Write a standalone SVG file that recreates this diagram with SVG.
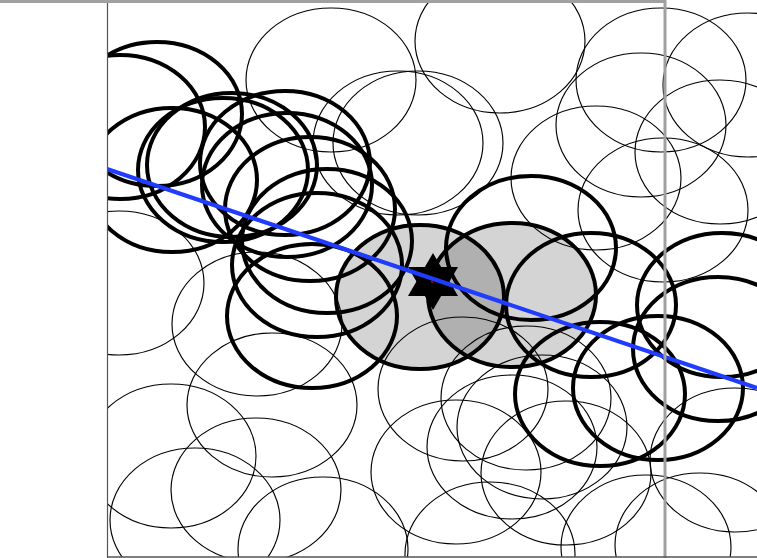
<svg xmlns="http://www.w3.org/2000/svg" width="757" height="558" viewBox="0 0 757 558">
<style>
.t{fill:none;stroke:#000;stroke-width:1.15}
.k{fill:none;stroke:#000;stroke-width:4}
.gf{fill:#000;fill-opacity:0.17;stroke:none}
</style>
<defs>
<clipPath id="area"><rect x="107" y="0" width="650" height="557"/></clipPath>
</defs>
<rect x="0" y="0" width="757" height="558" fill="#fff"/>
<g clip-path="url(#area)">
<g id="fills">
<ellipse class="gf" cx="420" cy="297" rx="84" ry="72"/>
<ellipse class="gf" cx="512" cy="295" rx="84" ry="72"/>
</g>
<g id="thin">
<ellipse class="t" cx="331" cy="80" rx="85" ry="72"/>
<ellipse class="t" cx="500" cy="41" rx="85" ry="72"/>
<ellipse class="t" cx="398" cy="143" rx="85" ry="72"/>
<ellipse class="t" cx="418" cy="143" rx="85" ry="72"/>
<ellipse class="t" cx="661" cy="80" rx="85" ry="72"/>
<ellipse class="t" cx="641" cy="125" rx="85" ry="72"/>
<ellipse class="t" cx="748" cy="85" rx="85" ry="72"/>
<ellipse class="t" cx="720" cy="152" rx="85" ry="72"/>
<ellipse class="t" cx="596" cy="178" rx="85" ry="72"/>
<ellipse class="t" cx="663" cy="210" rx="85" ry="72"/>
<ellipse class="t" cx="119" cy="283" rx="85" ry="72"/>
<ellipse class="t" cx="257" cy="324" rx="85" ry="72"/>
<ellipse class="t" cx="272" cy="405" rx="85" ry="72"/>
<ellipse class="t" cx="171" cy="456" rx="85" ry="72"/>
<ellipse class="t" cx="195" cy="520" rx="85" ry="72"/>
<ellipse class="t" cx="256" cy="490" rx="85" ry="72"/>
<ellipse class="t" cx="323" cy="549" rx="85" ry="72"/>
<ellipse class="t" cx="463" cy="389" rx="85" ry="72"/>
<ellipse class="t" cx="456" cy="472" rx="85" ry="72"/>
<ellipse class="t" cx="512" cy="447" rx="85" ry="72"/>
<ellipse class="t" cx="490" cy="554" rx="85" ry="72"/>
<ellipse class="t" cx="566" cy="473" rx="85" ry="72"/>
<ellipse class="t" cx="646" cy="547" rx="85" ry="72"/>
<ellipse class="t" cx="700" cy="545" rx="85" ry="72"/>
<ellipse class="t" cx="526" cy="398" rx="85" ry="72"/>
<ellipse class="t" cx="542" cy="427" rx="85" ry="72"/>
<ellipse class="t" cx="735" cy="460" rx="85" ry="72"/>
</g>
<g id="thick">
<ellipse class="k" cx="157" cy="114" rx="85" ry="72"/>
<ellipse class="k" cx="120" cy="127" rx="85" ry="72"/>
<ellipse class="k" cx="172" cy="180" rx="85" ry="72"/>
<ellipse class="k" cx="223" cy="170" rx="85" ry="72"/>
<ellipse class="k" cx="232" cy="165" rx="85" ry="72"/>
<ellipse class="k" cx="287" cy="185" rx="85" ry="72"/>
<ellipse class="k" cx="285" cy="163" rx="85" ry="72"/>
<ellipse class="k" cx="310" cy="209" rx="85" ry="72"/>
<ellipse class="k" cx="327" cy="241" rx="85" ry="72"/>
<ellipse class="k" cx="317" cy="265" rx="85" ry="72"/>
<ellipse class="k" cx="312" cy="316" rx="85" ry="72"/>
<ellipse class="k" cx="531" cy="248" rx="85" ry="72"/>
<ellipse class="k" cx="591" cy="305" rx="85" ry="72"/>
<ellipse class="k" cx="600" cy="394" rx="85" ry="72"/>
<ellipse class="k" cx="658" cy="388" rx="85" ry="72"/>
<ellipse class="k" cx="722" cy="305" rx="85" ry="72"/>
<ellipse class="k" cx="718" cy="349" rx="85" ry="72"/>
<ellipse class="k" cx="420" cy="297" rx="84" ry="72"/>
<ellipse class="k" cx="512" cy="295" rx="84" ry="72"/>
</g>
<g id="star">
<polygon points="433,253 458,296 408,296" fill="#000"/>
<polygon points="433,310 458,267 408,267" fill="#000"/>
<circle cx="432" cy="282" r="1" fill="#e00000"/>
</g>
<g id="connectors">
<line x1="107" y1="169" x2="757" y2="388" stroke="#1f3cff" stroke-width="4.2"/>
</g>
</g>
<g id="frame">
<line x1="0" y1="1.5" x2="665" y2="1.5" stroke="#a0a0a0" stroke-width="3"/>
<line x1="665" y1="0" x2="665" y2="558" stroke="#a0a0a0" stroke-width="3"/>
<line x1="107.5" y1="3" x2="107.5" y2="558" stroke="#555" stroke-width="1.2"/>
<line x1="107" y1="557" x2="757" y2="557" stroke="#555" stroke-width="1.5"/>
</g>
</svg>
